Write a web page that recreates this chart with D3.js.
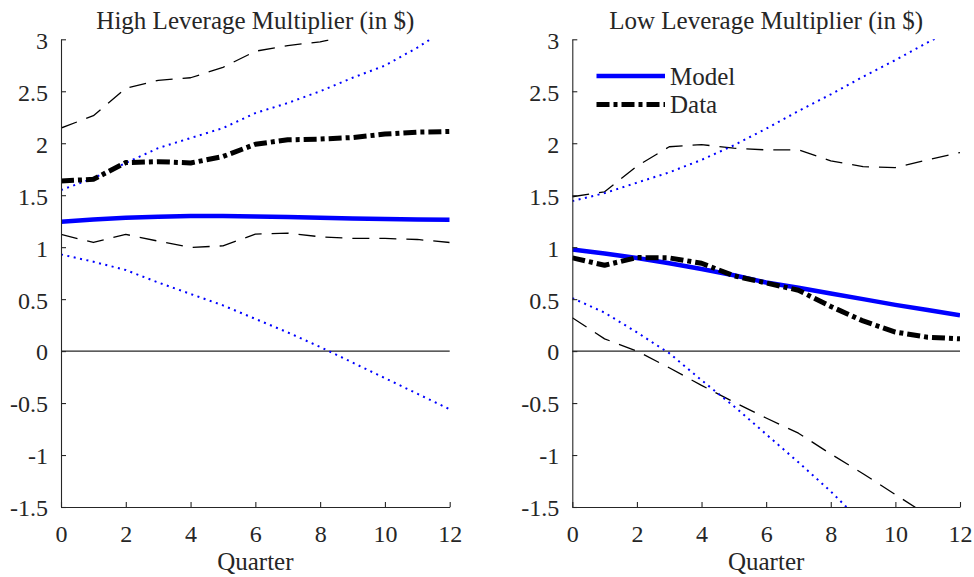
<!DOCTYPE html>
<html>
<head>
<meta charset="utf-8">
<script src="https://cdn.jsdelivr.net/npm/d3@7"></script>
<style>
  html, body { margin: 0; padding: 0; background: #fff; }
  svg { display: block; }
  svg text { font-family: "Liberation Serif", "Times New Roman", serif !important; fill: #262626; }
</style>
</head>
<body>
<svg id="chart" width="974" height="577"></svg>
<script>
// ---- data ----
const quarters = [0, 1, 2, 3, 4, 5, 6, 7, 8, 9, 10, 11, 12];

const highModel   = [1.244, 1.267, 1.283, 1.293, 1.299, 1.299, 1.296, 1.290, 1.283, 1.277, 1.270, 1.267, 1.264];
const highModelLo = [0.93, 0.86, 0.78, 0.66, 0.55, 0.44, 0.31, 0.18, 0.04, -0.11, -0.26, -0.41, -0.56];
const highModelHi = [1.55, 1.663, 1.81, 1.953, 2.05, 2.146, 2.29, 2.387, 2.50, 2.63, 2.747, 2.92, 3.12];
const highData    = [1.637, 1.653, 1.814, 1.823, 1.81, 1.872, 1.99, 2.033, 2.04, 2.055, 2.088, 2.107, 2.113];
const highDataHi  = [2.146, 2.265, 2.53, 2.605, 2.63, 2.73, 2.885, 2.94, 2.976, 3.04, 3.10, 3.15, 3.20];
const highDataLo  = [1.123, 1.045, 1.123, 1.058, 0.997, 1.013, 1.125, 1.135, 1.10, 1.084, 1.084, 1.074, 1.045];

const lowModel    = [0.977, 0.94, 0.895, 0.845, 0.79, 0.73, 0.66, 0.61, 0.555, 0.50, 0.445, 0.395, 0.344];
const lowModelHi  = [1.443, 1.52, 1.62, 1.72, 1.84, 1.98, 2.14, 2.31, 2.47, 2.64, 2.80, 2.97, 3.13];
const lowModelLo  = [0.51, 0.37, 0.18, -0.02, -0.28, -0.53, -0.80, -1.07, -1.35, -1.66, -1.92, -2.19, -2.44];
const lowData     = [0.897, 0.826, 0.90, 0.897, 0.845, 0.725, 0.656, 0.585, 0.43, 0.29, 0.183, 0.134, 0.118];
const lowDataHi   = [1.485, 1.533, 1.78, 1.966, 1.987, 1.952, 1.936, 1.936, 1.83, 1.775, 1.766, 1.84, 1.91];
const lowDataLo   = [0.321, 0.118, 0.0, -0.16, -0.33, -0.49, -0.644, -0.79, -0.99, -1.18, -1.38, -1.58, -1.78];

const xTicks = [0, 2, 4, 6, 8, 10, 12];
const yTicks = [-1.5, -1, -0.5, 0, 0.5, 1, 1.5, 2, 2.5, 3];
const yTickLabels = ["-1.5", "-1", "-0.5", "0", "0.5", "1", "1.5", "2", "2.5", "3"];
const titles = ["High Leverage Multiplier (in $)", "Low Leverage Multiplier (in $)"];
const xLabel = "Quarter";
const legendLabels = ["Model", "Data"];

// ---- layout ----
const FONT = "'Liberation Serif', 'Times New Roman', serif";
const svg = d3.select("#chart");
const panels = [
  { x0: 61,    x1: 449.7, title: titles[0], model: highModel, mLo: highModelLo, mHi: highModelHi, data: highData, dLo: highDataLo, dHi: highDataHi, legend: false },
  { x0: 572.3, x1: 960,   title: titles[1], model: lowModel,  mLo: lowModelLo,  mHi: lowModelHi,  data: lowData,  dLo: lowDataLo,  dHi: lowDataHi,  legend: true }
];
const yTop = 39.3, yBot = 507;
const axisColor = "#262626";

const styles = {
  model: { stroke: "#0000ff", width: 4.5, dash: null },
  data:  { stroke: "#000000", width: 5,   dash: "13,4,4,4" },
  dci:   { stroke: "#000000", width: 1.3, dash: "17,10" },
  mci:   { stroke: "#0000ff", width: 2,   dash: "2,4.5" }
};

panels.forEach((p, i) => {
  const x = d3.scaleLinear().domain([0, 12]).range([p.x0, p.x1]);
  const y = d3.scaleLinear().domain([-1.5, 3]).range([yBot, yTop]);
  const g = svg.append("g");

  const clipId = "clip" + i;
  svg.append("clipPath").attr("id", clipId)
    .append("rect").attr("x", p.x0).attr("y", yTop).attr("width", p.x1 - p.x0).attr("height", yBot - yTop);

  // zero line
  g.append("line")
    .attr("x1", x(0)).attr("x2", x(12)).attr("y1", y(0)).attr("y2", y(0))
    .attr("stroke", axisColor).attr("stroke-width", 1.1);

  const line = d3.line().x((d, j) => x(quarters[j])).y(d => y(d));
  const plot = g.append("g").attr("clip-path", `url(#${clipId})`);
  const draw = (arr, st) => {
    const path = plot.append("path").datum(arr)
      .attr("d", line).attr("fill", "none")
      .attr("stroke", st.stroke).attr("stroke-width", st.width)
      .attr("stroke-linejoin", "round");
    if (st.dash) path.attr("stroke-dasharray", st.dash);
  };
  draw(p.dHi, styles.dci);
  draw(p.dLo, styles.dci);
  draw(p.mHi, styles.mci);
  draw(p.mLo, styles.mci);
  draw(p.model, styles.model);
  draw(p.data, styles.data);

  // axes
  const yAxis = d3.axisLeft(y).tickValues(yTicks)
    .tickFormat((d, j) => yTickLabels[j]).tickSizeInner(-5).tickSizeOuter(0).tickPadding(13);
  const ya = g.append("g").attr("transform", `translate(${p.x0},0)`).call(yAxis);
  const xAxis = d3.axisBottom(x).tickValues(xTicks)
    .tickFormat(d => String(d)).tickSizeInner(-5).tickSizeOuter(0).tickPadding(18);
  const xa = g.append("g").attr("transform", `translate(0,${yBot})`).call(xAxis);
  [ya, xa].forEach(a => {
    a.attr("font-family", FONT).attr("font-size", 24);
    a.select(".domain").attr("stroke", axisColor).attr("stroke-width", 1.1);
    a.selectAll(".tick line").attr("stroke", axisColor).attr("stroke-width", 1.1);
    a.selectAll(".tick text")
      .style("font-family", FONT).style("font-size", "24px").style("fill", axisColor);
  });
  ya.selectAll(".tick text").attr("dy", "0.37em");

  // title
  g.append("text").attr("x", (p.x0 + p.x1) / 2).attr("y", 29.3)
    .attr("text-anchor", "middle").style("font-size", "25px").text(p.title);
  // x label
  g.append("text").attr("x", (p.x0 + p.x1) / 2).attr("y", 570)
    .attr("text-anchor", "middle").style("font-size", "25px").text(xLabel);

  if (p.legend) {
    const lg = g.append("g");
    const items = [{ st: styles.model, y: 76 }, { st: styles.data, y: 104.5 }];
    items.forEach((it, k) => {
      const l = lg.append("line").attr("x1", 596.5).attr("x2", 665)
        .attr("y1", it.y).attr("y2", it.y)
        .attr("stroke", it.st.stroke).attr("stroke-width", it.st.width);
      if (it.st.dash) l.attr("stroke-dasharray", it.st.dash);
      lg.append("text").attr("x", 670).attr("y", it.y + 8.5)
        .style("font-size", "25px").text(legendLabels[k]);
    });
  }
});
</script>
</body>
</html>
